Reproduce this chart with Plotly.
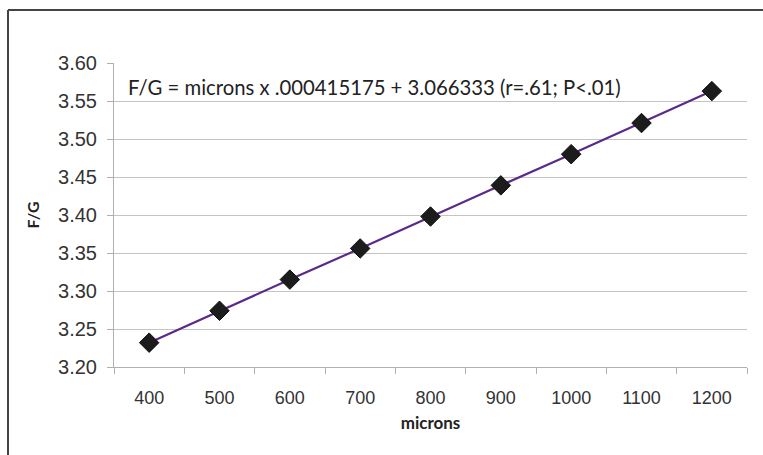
import plotly.graph_objects as go

categories = ["400", "500", "600", "700", "800", "900", "1000", "1100", "1200"]
fg_values = [3.232, 3.274, 3.315, 3.356, 3.398, 3.439, 3.480, 3.521, 3.563]
y_ticks = [3.20, 3.25, 3.30, 3.35, 3.40, 3.45, 3.50, 3.55, 3.60]
equation = "F/G = microns x .000415175 + 3.066333 (r=.61; P<.01)"

W, H = 763, 455
L, R, T, B = 114, 747, 63, 367

fig = go.Figure()
fig.add_trace(go.Scatter(
    x=categories, y=fg_values, mode="lines+markers",
    line=dict(color="#5a2a8a", width=2.2),
    marker=dict(symbol="diamond", size=15, color="#1c1c1c",
                line=dict(color="#111111", width=1)),
    showlegend=False, cliponaxis=False,
))

pw, ph = R - L, B - T
def px(x):
    return (x - L) / pw
def py(y):
    return (B - y) / ph

fig.update_layout(
    width=W, height=H,
    margin=dict(l=L, r=W - R, t=T, b=H - B, pad=0),
    paper_bgcolor="white", plot_bgcolor="white",
    font=dict(family="Liberation Sans, Arial", color="#333333"),
    xaxis=dict(
        type="category", tickson="boundaries", ticks="outside", ticklen=6,
        tickcolor="#b0b0b0", showline=True, linecolor="#b0b0b0", linewidth=1,
        showgrid=False, tickfont=dict(size=18, color="#333333"),
        ticklabelstandoff=14,
        title=dict(text="<b>microns</b>", font=dict(family="Lato", size=17, color="#222222"), standoff=10),
        range=[-0.5, 8.5],
    ),
    yaxis=dict(
        range=[3.20, 3.60], tickvals=y_ticks, tickformat=".2f",
        ticks="outside", ticklen=6, tickcolor="#b0b0b0",
        showline=True, linecolor="#b0b0b0", linewidth=1,
        showgrid=True, gridcolor="#c4c4c4", gridwidth=1,
        tickfont=dict(size=20, color="#333333"),
        ticklabelstandoff=6,
        title=dict(text="<b>F/G</b>", font=dict(family="Lato", size=16, color="#222222"), standoff=14),
        zeroline=False,
    ),
    annotations=[dict(
        text=equation, xref="paper", yref="paper",
        x=px(126), y=py(87), xanchor="left", yanchor="middle",
        showarrow=False, font=dict(family="Lato", size=20.3, color="#222222"),
    )],
    shapes=[
        dict(type="line", xref="paper", yref="paper", x0=px(8), x1=px(8), y0=py(10), y1=py(460),
             line=dict(color="#444444", width=2)),
        dict(type="line", xref="paper", yref="paper", x0=px(8), x1=px(770), y0=py(10), y1=py(10),
             line=dict(color="#444444", width=2)),
    ],
)

fig.write_html("out.html", config={"displayModeBar": False},
               post_script="document.body.style.margin='0';document.body.style.overflow='hidden';")
